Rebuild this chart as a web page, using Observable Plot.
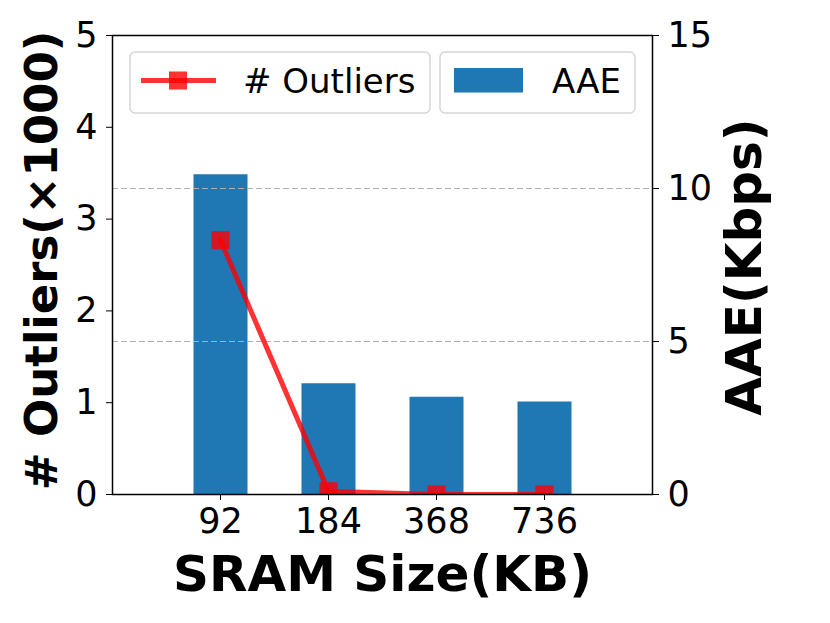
<!DOCTYPE html>
<html>
<head>
<meta charset="utf-8">
<script src="https://cdn.jsdelivr.net/npm/d3@7"></script>
<script src="https://cdn.jsdelivr.net/npm/@observablehq/plot@0.6"></script>
<style>
  html, body { margin: 0; padding: 0; background: white; }
  #chart { position: relative; width: 830px; height: 623px; }
</style>
</head>
<body>
<div id="chart"></div>
<script>
// ---- data ----
const sizes = ["92", "184", "368", "736"];          // SRAM size (KB)
const aae = [10.45, 3.62, 3.18, 3.02];               // AAE (Kbps), right axis
const outliers = [2.77, 0.035, 0.0, 0.0];            // # outliers (x1000), left axis
const leftTicks = [0, 1, 2, 3, 4, 5];
const rightTicks = [0, 5, 10, 15];
const gridTicks = [5, 10];                           // right-axis grid lines
const seriesNames = ["# Outliers", "AAE"];
const xLabel = "SRAM Size(KB)";
const yLeftLabel = "# Outliers(×1000)";
const yRightLabel = "AAE(Kbps)";
const ratio = 15 / 5;                                // right domain / left domain

const blue = "#1f77b4";
const red = "#ff0000";

const data = sizes.map((s, i) => ({size: s, aae: aae[i], out: outliers[i]}));

const plot = Plot.plot({
  width: 830,
  height: 623,
  marginLeft: 112,
  marginRight: 178,
  marginTop: 35,
  marginBottom: 129,
  style: {fontFamily: "DejaVu Sans", fontSize: "35px", color: "black", background: "white", overflow: "visible"},
  x: {type: "point", domain: sizes, padding: 1},
  y: {domain: [0, 5]},
  marks: [
    Plot.ruleX(data, {x: "size", y1: 0, y2: d => d.aae / ratio, stroke: blue, strokeWidth: 54}),
    Plot.ruleY(gridTicks, {y: d => d / ratio, stroke: "#b0b0b0", strokeWidth: 1.2, strokeDasharray: "6,3"}),
    Plot.line(data, {x: "size", y: "out", stroke: red, strokeOpacity: 0.8, strokeWidth: 5, clip: true}),
    Plot.dot(data, {x: "size", y: "out", symbol: "square", r: 10.2, fill: red, fillOpacity: 0.8, stroke: "none", clip: true}),
    Plot.frame({stroke: "black", strokeWidth: 1.5}),
    Plot.axisY({anchor: "left", ticks: leftTicks, tickSize: 6, tickPadding: 9, label: null, fontSize: 35, tickFormat: d => String(d)}),
    Plot.axisY({anchor: "right", ticks: rightTicks.map(v => v / ratio), tickSize: 6, tickPadding: 9, label: null, fontSize: 35,
                tickFormat: d => String(Math.round(d * ratio))}),
    Plot.axisX({anchor: "bottom", ticks: sizes, tickSize: 6, tickPadding: 8, label: null, fontSize: 35}),
    Plot.text([xLabel], {text: d => d, frameAnchor: "bottom", textAnchor: "middle", lineAnchor: "middle", dy: 80,
                         fontSize: 50, fontWeight: "bold", fill: "black"}),
    Plot.text([yLeftLabel], {text: d => d, frameAnchor: "left", textAnchor: "middle", lineAnchor: "middle", dx: -69.5, dy: -4.5,
                             rotate: -90, fontSize: 45, fontWeight: "bold", fill: "black"}),
    Plot.text([yRightLabel], {text: d => d, frameAnchor: "right", textAnchor: "middle", lineAnchor: "middle", dx: 92, dy: 2,
                              rotate: -90, fontSize: 50, fontWeight: "bold", fill: "black"})
  ]
});

document.getElementById("chart").appendChild(plot);

// ---- legend (two boxed entries inside the plot area) ----
const svg = d3.select(plot);
const lg = svg.append("g").attr("font-family", "DejaVu Sans").attr("font-size", 34).attr("text-anchor", "start");

// box 1: line + square marker
lg.append("rect").attr("x", 130).attr("y", 52).attr("width", 300).attr("height", 61)
  .attr("rx", 5).attr("fill", "white").attr("stroke", "#d6d6d6").attr("stroke-width", 1.5);
lg.append("line").attr("x1", 141).attr("x2", 216).attr("y1", 80.5).attr("y2", 80.5)
  .attr("stroke", red).attr("stroke-opacity", 0.8).attr("stroke-width", 5);
lg.append("rect").attr("x", 169).attr("y", 71.5).attr("width", 18).attr("height", 18)
  .attr("fill", red).attr("fill-opacity", 0.8);
lg.append("text").attr("x", 243).attr("y", 93).attr("fill", "black").attr("text-anchor", "start").text(seriesNames[0]);

// box 2: bar patch
lg.append("rect").attr("x", 440).attr("y", 52).attr("width", 195).attr("height", 61)
  .attr("rx", 5).attr("fill", "white").attr("stroke", "#d6d6d6").attr("stroke-width", 1.5);
lg.append("rect").attr("x", 454).attr("y", 68).attr("width", 69).attr("height", 24.5).attr("fill", blue);
lg.append("text").attr("x", 552).attr("y", 93).attr("fill", "black").attr("text-anchor", "start").text(seriesNames[1]);
</script>
</body>
</html>
